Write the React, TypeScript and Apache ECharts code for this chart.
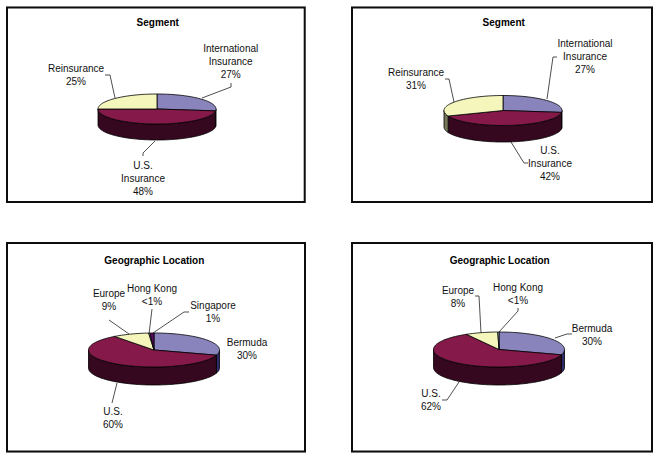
import React, { useEffect, useRef } from "react";
import * as echarts from "echarts";

// ---- data ----
const titleSegment = "Segment";
const titleGeo = "Geographic Location";

const segmentNames = ["International\nInsurance", "U.S.\nInsurance", "Reinsurance"];
const segmentLeftValues = [27, 48, 25];
const segmentLeftLabels = ["27%", "48%", "25%"];
const segmentRightValues = [27, 42, 31];
const segmentRightLabels = ["27%", "42%", "31%"];

const geoLeftNames = ["Bermuda", "U.S.", "Europe", "Hong Kong", "Singapore"];
const geoLeftValues = [30, 60, 9, 0.3, 1];
const geoLeftLabels = ["30%", "60%", "9%", "<1%", "1%"];

const geoRightNames = ["Bermuda", "U.S.", "Europe", "Hong Kong"];
const geoRightValues = [30, 62, 8, 0.3];
const geoRightLabels = ["30%", "62%", "8%", "<1%"];

// ---- styling / layout ----
const topColors = ["#8A84BC", "#851A4A", "#F4F6BC", "#CCEFF2", "#5A0A60"];
const sideColors = ["#2C2A6A", "#36081F", "#77775A", "#66777A", "#2D0530"];

type Layout = {
  frame: number[];
  titleAt: number[];
  pie: { cx: number; cy: number; rx: number; ry: number; depth: number };
  labelAt: number[][];
  leaders: number[][][];
};

const layoutA: Layout = {
  frame: [7, 7.5, 304.7, 202],
  titleAt: [157.7, 22],
  pie: { cx: 157, cy: 109, rx: 59, ry: 15, depth: 16 },
  labelAt: [[230.7, 48], [143, 165], [76, 68]],
  leaders: [
    [[202, 98], [231, 87], [231, 83]],
    [[155, 141], [143, 153], [143, 156]],
    [[115, 98], [110, 75], [105, 75]],
  ],
};
const layoutB: Layout = {
  frame: [352, 7.5, 652, 202],
  titleAt: [503.7, 22.5],
  pie: { cx: 503, cy: 110.5, rx: 59, ry: 15, depth: 16.5 },
  labelAt: [[585, 43], [550, 150], [416, 72]],
  leaders: [
    [[547, 99], [553, 57], [557, 57]],
    [[511, 142], [524, 163], [528, 163]],
    [[454, 102], [449, 79], [445, 79]],
  ],
};
const layoutC: Layout = {
  frame: [7, 243, 305, 451.5],
  titleAt: [154.3, 260],
  pie: { cx: 154, cy: 350, rx: 65.5, ry: 17, depth: 18 },
  labelAt: [[247, 342], [113, 411], [109, 293], [152, 288], [213, 305]],
  leaders: [
    [],
    [[117, 383], [112, 403]],
    [[129, 334], [109, 320]],
    [[149, 334], [152, 309]],
    [[153, 333], [184, 312], [189, 312]],
  ],
};
const layoutD: Layout = {
  frame: [352, 243, 652, 451.5],
  titleAt: [499.7, 260],
  pie: { cx: 499, cy: 349.5, rx: 65.5, ry: 17.5, depth: 18 },
  labelAt: [[592, 328], [431, 393], [458, 290], [518, 287]],
  leaders: [
    [[555, 338], [567, 334], [572, 334]],
    [[459, 382], [447, 400], [442, 400]],
    [[481, 333], [479, 296], [475, 296]],
    [[499, 332], [518, 311], [518, 308]],
  ],
};

const panels = [
  { title: titleSegment, names: segmentNames, values: segmentLeftValues, labels: segmentLeftLabels, layout: layoutA },
  { title: titleSegment, names: segmentNames, values: segmentRightValues, labels: segmentRightLabels, layout: layoutB },
  { title: titleGeo, names: geoLeftNames, values: geoLeftValues, labels: geoLeftLabels, layout: layoutC },
  { title: titleGeo, names: geoRightNames, values: geoRightValues, labels: geoRightLabels, layout: layoutD },
];

const FONT = "'Liberation Sans', Arial, sans-serif";
const LINE_H = 12.7;

function arcPoints(p: Layout["pie"], fromDeg: number, toDeg: number, dy = 0): number[][] {
  const pts: number[][] = [];
  const n = Math.max(1, Math.ceil((toDeg - fromDeg) / 2));
  for (let i = 0; i <= n; i++) {
    const a = ((fromDeg + ((toDeg - fromDeg) * i) / n) * Math.PI) / 180;
    pts.push([p.cx + p.rx * Math.sin(a), p.cy - p.ry * Math.cos(a) + dy]);
  }
  return pts;
}

function pieSeries(panel: (typeof panels)[number]) {
  const total = panel.values.reduce((s, v) => s + v, 0);
  const pie = panel.layout.pie;
  return {
    type: "custom",
    coordinateSystem: "none",
    silent: true,
    data: panel.values.map((v) => [v]),
    renderItem: (params: any, api: any) => {
      const i = params.dataIndex;
      let before = 0;
      for (let k = 0; k < i; k++) before += panel.values[k];
      const a0 = (before / total) * 360;
      const a1 = a0 + (Number(api.value(0)) / total) * 360;
      const children: any[] = [];
      const s0 = Math.max(a0, 90);
      const s1 = Math.min(a1, 270);
      if (s1 > s0) {
        const upper = arcPoints(pie, s0, s1);
        const lower = arcPoints(pie, s0, s1, pie.depth).reverse();
        children.push({
          type: "polygon",
          shape: { points: upper.concat(lower) },
          style: { fill: sideColors[i], stroke: "#000", lineWidth: 0.8 },
        });
      }
      children.push({
        type: "polygon",
        shape: { points: [[pie.cx, pie.cy], ...arcPoints(pie, a0, a1)] },
        style: { fill: topColors[i], stroke: "#000", lineWidth: 0.8 },
      });
      return { type: "group", children };
    },
  };
}

function panelGraphics(panel: (typeof panels)[number]) {
  const [x0, y0, x1, y1] = panel.layout.frame;
  const out: any[] = [
    {
      type: "rect",
      silent: true,
      z: -1,
      shape: { x: x0, y: y0, width: x1 - x0, height: y1 - y0 },
      style: { fill: "#fff", stroke: "#111", lineWidth: 2, shadowColor: "rgba(0,0,0,0.25)", shadowBlur: 1 },
    },
  ];
  panel.names.forEach((name, i) => {
    const [lx, ly] = panel.layout.labelAt[i];
    out.push({
      type: "text",
      silent: true,
      x: lx,
      y: ly - LINE_H / 2 + 0.7,
      style: {
        text: `${name}\n${panel.labels[i]}`,
        font: `10px ${FONT}`,
        fill: "#111",
        textAlign: "center",
        textVerticalAlign: "top",
        lineHeight: LINE_H,
      },
    });
    const leader = panel.layout.leaders[i];
    if (leader.length) {
      out.push({
        type: "polyline",
        silent: true,
        shape: { points: leader },
        style: { stroke: "#222", lineWidth: 0.8, fill: "none" },
      });
    }
  });
  return out;
}

export default function App() {
  const ref = useRef<HTMLDivElement>(null);
  useEffect(() => {
    if (!ref.current) return;
    const chart = echarts.init(ref.current, undefined, { renderer: "svg" });
    chart.setOption({
      animation: false,
      backgroundColor: "#fff",
      title: panels.map((p) => ({
        text: p.title,
        left: p.layout.titleAt[0],
        top: p.layout.titleAt[1] - 5.5,
        textAlign: "center",
        padding: 0,
        textStyle: { fontFamily: FONT, fontSize: 10, fontWeight: "bold", color: "#000", lineHeight: 11 },
      })),
      series: panels.map(pieSeries),
      graphic: { elements: panels.flatMap(panelGraphics) },
    });
    return () => chart.dispose();
  }, []);
  return <div ref={ref} style={{ position: "fixed", left: 0, top: 0, width: 656, height: 459 }} />;
}
